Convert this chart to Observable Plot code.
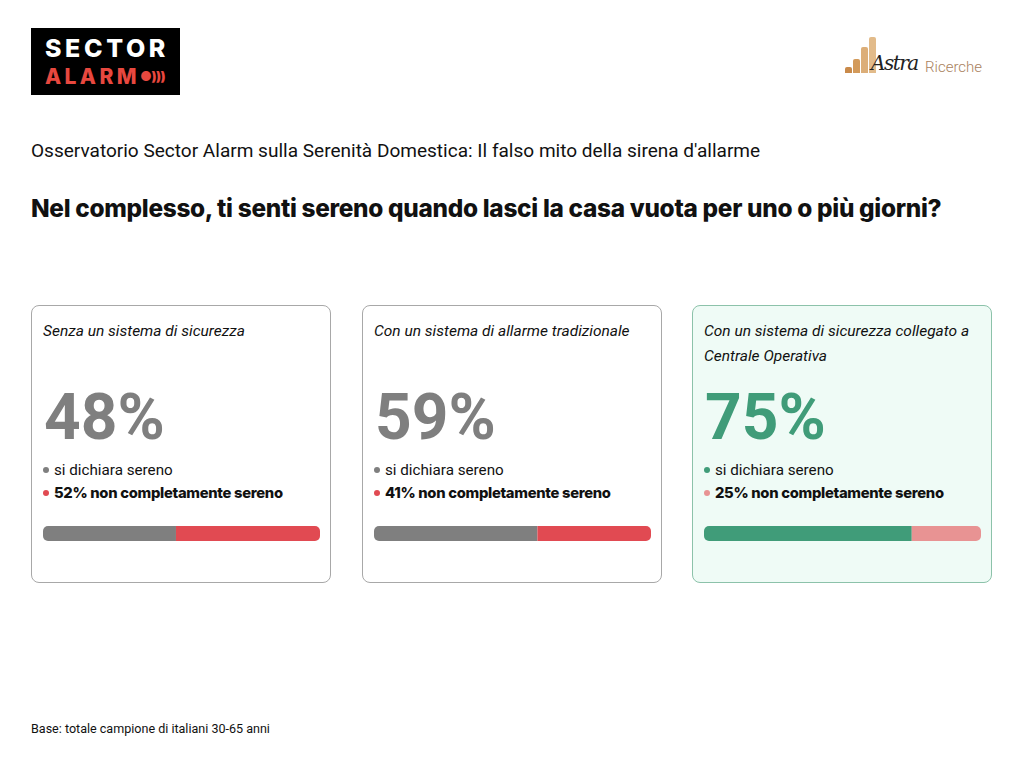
<!DOCTYPE html>
<html>
<head>
<meta charset="utf-8">
<script src="https://cdn.jsdelivr.net/npm/d3@7"></script>
<script src="https://cdn.jsdelivr.net/npm/@observablehq/plot@0.6"></script>
<style>
  html, body { margin: 0; padding: 0; background: #fff; }
  body { width: 1024px; height: 768px; position: relative; font-family: Roboto, "Noto Sans", sans-serif; color: #111; overflow: hidden; }
  .abs { position: absolute; white-space: nowrap; }
  #sa { left: 31px; top: 28px; width: 149px; height: 67px; background: #000; overflow: hidden; }
  #sa .l1 { position: absolute; left: 14px; top: 5px; font: 800 25px/normal Inter, Roboto, sans-serif; color: #fff; white-space: nowrap; }
  #sa .l2 { position: absolute; left: 14px; top: 36px; font: 800 21px/normal Inter, Roboto, sans-serif; color: #e8483f; white-space: nowrap; }
  #sa .l3 { position: absolute; left: 110px; top: 40px; font: 900 13px/normal Inter, Roboto, sans-serif; color: #e8483f; white-space: nowrap; letter-spacing: -0.5px; }
  #astra { left: 845px; top: 38px; width: 150px; height: 45px; }
  #astra .b { position: absolute; bottom: 10px; border-radius: 2px 2px 0 0; }
  #astra .t1 { position: absolute; left: 26px; top: 12px; font: italic 20px/26px "DejaVu Serif", serif; color: #222; letter-spacing: -1.5px; }
  #astra .t2 { position: absolute; left: 80px; top: 19px; font: 300 15px/20px Roboto, sans-serif; color: #a9825e; }
  #subtitle { left: 31px; top: 139px; font-size: 18.2px; line-height: 24px; font-weight: 400; }
  #title { left: 31px; top: 193px; font-family: Inter, Roboto, sans-serif; font-size: 23px; line-height: 30px; font-weight: 800; letter-spacing: -0.3px; }
  .card { position: absolute; top: 305px; width: 298px; height: 276px; border: 1px solid #a8a8a8; border-radius: 8px; background: #fff; }
  .card.hl { background: #effbf6; border-color: #8cc2aa; }
  .card .ct { position: absolute; left: 11px; top: 13px; width: 282px; font-style: italic; font-size: 15px; line-height: 25px; }
  .card .num { position: absolute; left: 12px; top: 72px; font-family: Roboto, sans-serif; font-size: 64px; line-height: 80px; font-weight: 700; letter-spacing: 0px; white-space: nowrap; }
  .card .lg { position: absolute; left: 11px; font-size: 15px; line-height: 20px; white-space: nowrap; }
  .card .lg .dot { display: inline-block; width: 6px; height: 6px; border-radius: 50%; margin-right: 5px; vertical-align: 2px; }
  .card .lg b { font-family: Inter, Roboto, sans-serif; font-weight: 800; letter-spacing: -0.3px; }
  .card .bar { position: absolute; left: 11px; top: 220px; width: 277px; height: 15px; border-radius: 5px; overflow: hidden; }
  .card .bar svg { display: block; }
  #foot { left: 31px; top: 721px; font-size: 12px; line-height: 16px; }
</style>
</head>
<body>
<script>
// ---- data ----
const groups = [
  "Senza un sistema di sicurezza",
  "Con un sistema di allarme tradizionale",
  "Con un sistema di sicurezza collegato a Centrale Operativa"
];
const sereno = [48, 59, 75];
const nonSereno = [52, 41, 25];
const labelSereno = "si dichiara sereno";
const labelNonSereno = "non completamente sereno";
const colSereno = ["#7f7f7f", "#7f7f7f", "#409c79"];
const colNonSereno = ["#e14a52", "#e14a52", "#e89393"];
const subtitleText = "Osservatorio Sector Alarm sulla Serenità Domestica: Il falso mito della sirena d'allarme";
const titleText = "Nel complesso, ti senti sereno quando lasci la casa vuota per uno o più giorni?";
const footText = "Base: totale campione di italiani 30-65 anni";

// ---- helpers ----
const body = document.body;
function el(tag, cls, parent, html) {
  const e = document.createElement(tag);
  if (cls) e.className = cls;
  if (html != null) e.innerHTML = html;
  (parent || body).appendChild(e);
  return e;
}
// scale an element's font-size so that its rendered width hits a target
function fit(e, target) {
  const w = e.getBoundingClientRect().width;
  const fs = parseFloat(getComputedStyle(e).fontSize);
  const nfs = fs * target / w;
  e.style.fontSize = nfs + "px";
  return nfs;
}
// adjust letter-spacing so that the rendered width hits a target
function fitLS(e, target) {
  const w = e.getBoundingClientRect().width;
  const n = e.textContent.length;
  e.style.letterSpacing = ((target - w) / n) + "px";
}

// ---- header / logos ----
const sa = el("div", "abs", body); sa.id = "sa";
const saL1 = el("div", "l1", sa, "SECTOR");
const saL2 = el("div", "l2", sa, "ALARM");
const saL3 = el("div", "l3", sa, "&#9679;)))");

const astra = el("div", "abs", body); astra.id = "astra";
[[0,6,"#c98a4a"],[8,14,"#d39a5a"],[16,26,"#dcae78"],[24,36,"#e2bb8a"]].forEach(([x,h,c]) => {
  const b = el("div", "b", astra); b.style.left = x + "px"; b.style.width = "7px"; b.style.height = h + "px"; b.style.background = c;
});
el("div", "t1", astra, "Astra");
el("div", "t2", astra, "Ricerche");

const st = el("div", "abs", body, subtitleText); st.id = "subtitle";
const tt = el("div", "abs", body, titleText); tt.id = "title";
const ft = el("div", "abs", body, footText); ft.id = "foot";
fit(st, 729);
fit(tt, 909);
fit(ft, 239);
fitLS(saL1, 124);
fitLS(saL2, 95);
saL3.style.left = (14 + saL2.getBoundingClientRect().width) + "px";

// ---- cards ----
const cardLeft = [31, 362, 692];
const cards = [];
groups.forEach((g, i) => {
  const c = el("div", "card" + (i === 2 ? " hl" : ""), body);
  c.style.left = cardLeft[i] + "px";
  const ct = el("div", "ct", c, g);
  const n = el("div", "num", c, sereno[i] + "%");
  n.style.color = colSereno[i];
  const l1 = el("div", "lg", c, `<span class="dot" style="background:${colSereno[i]}"></span>${labelSereno}`);
  l1.style.top = "154px";
  const l2 = el("div", "lg", c, `<span class="dot" style="background:${colNonSereno[i]}"></span><b>${nonSereno[i]}% ${labelNonSereno}</b>`);
  l2.style.top = "177px";
  const barWrap = el("div", "bar", c);
  const rows = [
    {k: labelSereno, v: sereno[i], c: colSereno[i]},
    {k: labelNonSereno, v: nonSereno[i], c: colNonSereno[i]}
  ];
  const chart = Plot.plot({
    width: 277,
    height: 15,
    margin: 0,
    x: {domain: [0, 100], axis: null},
    color: {type: "identity"},
    style: {background: "transparent"},
    marks: [
      Plot.barX(rows, Plot.stackX({x: "v", fill: "c", order: null, inset: 0}))
    ]
  });
  barWrap.appendChild(chart);
  cards.push({c, ct, n, l1, l2});
});

// calibrate shared font sizes from the first card
(function calibrate() {
  const c0 = cards[0];
  c0.ct.style.width = "auto"; c0.ct.style.whiteSpace = "nowrap";
  const fsT = fit(c0.ct, 202);
  c0.ct.style.width = "282px"; c0.ct.style.whiteSpace = "normal";
  cards.forEach(k => k.ct.style.fontSize = fsT + "px");
  const fsL = fit(c0.l1, 130);
  cards.forEach(k => k.l1.style.fontSize = fsL + "px");
  const fsB = fit(c0.l2, 240);
  cards.forEach(k => k.l2.style.fontSize = fsB + "px");
})();
</script>
</body>
</html>
